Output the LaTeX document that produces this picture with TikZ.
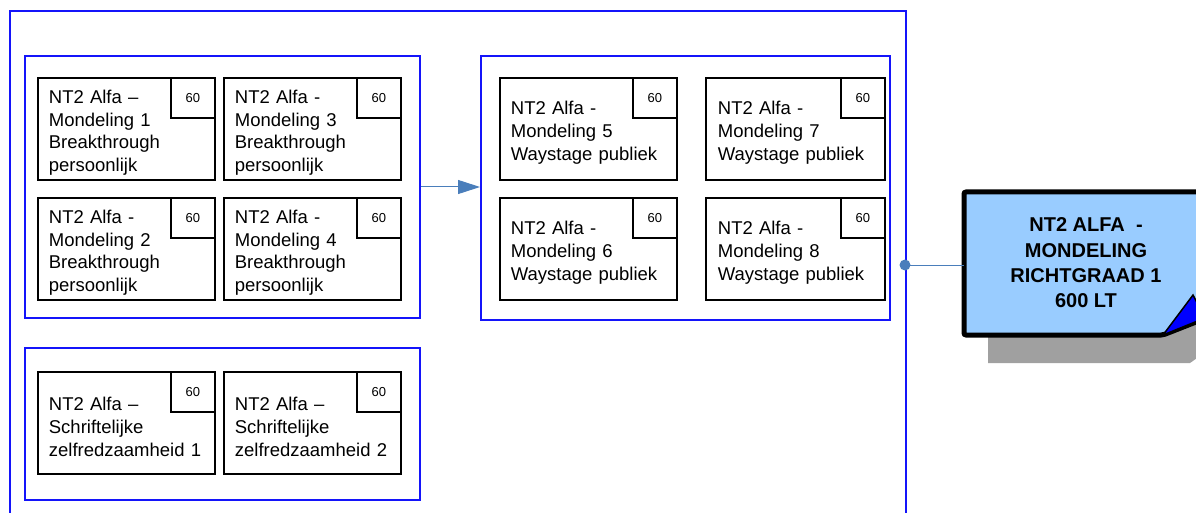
\documentclass[tikz,border=0pt]{standalone}
\usepackage{fontspec}
\setmainfont{Liberation Sans}
\usetikzlibrary{arrows.meta}
\definecolor{frameblue}{RGB}{20,20,250}
\definecolor{connblue}{RGB}{74,126,187}
\definecolor{bigfill}{RGB}{153,204,255}
\definecolor{shadowgray}{RGB}{160,160,160}
\newcommand{\tstrut}{\rule{0pt}{21pt}}
\tikzset{
  grp/.style={draw=frameblue, line width=2pt, anchor=north west, inner sep=0pt},
  course/.style={draw=black, line width=1.8pt, anchor=north west, minimum width=177pt,
    minimum height=102pt, inner xsep=11pt, inner ysep=0pt, text width=155pt, align=left,
    font=\fontsize{18.5}{22.7}\selectfont},
  credit/.style={draw=black, line width=1.8pt, anchor=north east, minimum width=44pt,
    minimum height=40pt, inner sep=0pt, font=\fontsize{13}{15}\selectfont},
  conn/.style={draw=connblue, line width=1pt},
}
\begin{document}
\begin{tikzpicture}[x=1pt,y=-1pt]
\useasboundingbox (0,0) rectangle (1196,513);
\clip (0,0) rectangle (1196,513);
% outer frame
\node[grp, minimum width=896pt, minimum height=530pt] (outer) at (9,10) {};
% groups
\node[grp, minimum width=395pt, minimum height=262pt] (g1) at (24,55) {};
\node[grp, minimum width=409pt, minimum height=264pt] (g2) at (480,55) {};
\node[grp, minimum width=395pt, minimum height=152pt] (g3) at (24,347) {};
% group 1
\node[course] (m1) at (37,77) {\tstrut NT2 Alfa --\\Mondeling 1\\Breakthrough\\persoonlijk};
\node[credit] (c1) at (m1.north east) {60};
\node[course] (m3) at (223,77) {\tstrut NT2 Alfa -\\Mondeling 3\\Breakthrough\\persoonlijk};
\node[credit] (c3) at (m3.north east) {60};
\node[course] (m2) at (37,197) {\tstrut NT2 Alfa -\\Mondeling 2\\Breakthrough\\persoonlijk};
\node[credit] (c2) at (m2.north east) {60};
\node[course] (m4) at (223,197) {\tstrut NT2 Alfa -\\Mondeling 4\\Breakthrough\\persoonlijk};
\node[credit] (c4) at (m4.north east) {60};
% group 2
\node[course] (m5) at (499,77) {\tstrut NT2 Alfa -\\Mondeling 5\\Waystage publiek};
\node[credit] (c5) at (m5.north east) {60};
\node[course, minimum width=179pt] (m7) at (705,77) {\tstrut NT2 Alfa -\\Mondeling 7\\Waystage publiek};
\node[credit] (c7) at (m7.north east) {60};
\node[course] (m6) at (499,197) {\tstrut NT2 Alfa -\\Mondeling 6\\Waystage publiek};
\node[credit] (c6) at (m6.north east) {60};
\node[course, minimum width=179pt] (m8) at (705,197) {\tstrut NT2 Alfa -\\Mondeling 8\\Waystage publiek};
\node[credit] (c8) at (m8.north east) {60};
% group 3
\node[course] (s1) at (37,371) {\tstrut NT2 Alfa --\\Schriftelijke\\zelfredzaamheid 1};
\node[credit] (cs1) at (s1.north east) {60};
\node[course] (s2) at (223,371) {\tstrut NT2 Alfa --\\Schriftelijke\\zelfredzaamheid 2};
\node[credit] (cs2) at (s2.north east) {60};
% arrow between groups
\draw[conn, -{Triangle[length=22pt,width=14pt]}] (g1.east) -- (g1.east -| g2.west);
% big box
\fill[shadowgray] (988,335) -- (988,363) -- (1190,363) -- (1200,356) -- (1200,320) -- (1163,335) -- cycle;
\filldraw[fill=bigfill, draw=black, line width=5pt, rounded corners=2pt]
  (1205,192) -- (964,192) -- (964,335) -- (1163,335) -- (1205,318.5);
\filldraw[fill=blue, draw=black, line width=1.5pt] (1163,335) -- (1193,295) -- (1205,318) -- cycle;
\node[font=\bfseries\fontsize{20}{25.3}\selectfont, align=center] (big) at (1086,263)
  {NT2 ALFA~~-\\MONDELING\\RICHTGRAAD 1\\600 LT};
\coordinate (bigw) at (964,265);
\coordinate (dot) at (905,265);
\draw[conn] (dot) -- (bigw);
\fill[connblue] (dot) circle (5.5pt);
\end{tikzpicture}
\end{document}
